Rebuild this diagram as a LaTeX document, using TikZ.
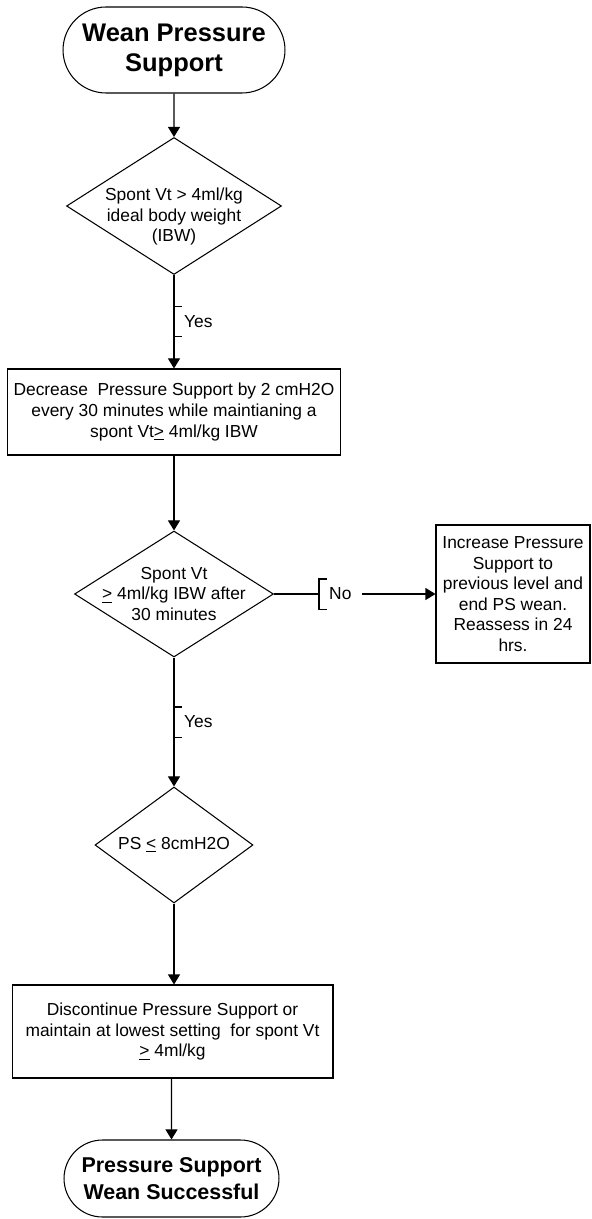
\documentclass[tikz,border=0pt]{standalone}
\usepackage{fontspec}
\setmainfont{Liberation Sans}
\usetikzlibrary{shapes,arrows.meta,positioning}

\begin{document}
\begin{tikzpicture}[x=0.02cm, y=-0.02cm, line width=0.6pt, align=center,
  font=\fontsize{9.9}{11.7}\selectfont,
  term/.style={draw, rounded rectangle, inner sep=0pt},
  decision/.style={draw, diamond, inner sep=0pt},
  block/.style={draw, rectangle, inner sep=0pt},
  brk/.style={inner xsep=5.5pt, inner ysep=0pt, minimum height=0.58cm, anchor=west},
  flow/.style={-{Triangle[length=5.7pt,width=6.8pt]}}]
\useasboundingbox (0,0) rectangle (591,1219);
% main column
\node[term, minimum width=4.44cm, minimum height=1.72cm, font=\fontsize{14.5}{17}\selectfont\bfseries] (start) at (174,50) {Wean Pressure\\Support};
\node[decision, minimum width=4.3cm, minimum height=2.74cm, aspect=1.57, inner sep=-2.3pt] (d1) at (174,206) {\raisebox{-0.22cm}[\height][\depth]{\begin{tabular}{@{}c@{}}Spont Vt > 4ml/kg\\ideal body weight\\(IBW)\end{tabular}}};
\node[block, minimum width=6.66cm, minimum height=1.72cm] (box1) at (174,412) {Decrease\ \ Pressure Support by 2 cmH2O\\every 30 minutes while maintianing a\\spont Vt\underline{>} 4ml/kg IBW};
\node[decision, minimum width=3.98cm, minimum height=2.52cm, aspect=1.58, inner sep=-5.1pt] (d2) at (174,594) {Spont Vt\\\underline{>} 4ml/kg IBW after\\30 minutes};
\node[decision, minimum width=3.16cm, minimum height=2.32cm, aspect=1.36] (d3) at (174,845) {PS \underline{<} 8cmH2O};
\node[block, minimum width=6.42cm, minimum height=1.86cm] (box3) at (172.5,1031.5) {Discontinue Pressure Support or\\maintain at lowest setting\ \ for spont Vt\\\underline{>} 4ml/kg};
\node[term, minimum width=4.3cm, minimum height=1.54cm, font=\fontsize{12.2}{15.3}\selectfont\bfseries] (end) at (171.5,1178.5) {Pressure Support\\Wean Successful};
% side branch
\node[block, minimum width=3.08cm, minimum height=2.76cm] (box2) at (513,594) {Increase Pressure\\Support to\\previous level and\\end PS wean.\\Reassess in 24\\hrs.};
\node[brk] (no1) at (319,594) {No};

\draw[flow] (start) -- (d1);
\draw[flow] (d1) -- (box1) node[brk, pos=.5] (yes1) {Yes};
\draw[flow] (box1) -- (d2);
\draw[flow] (d2) -- (d3) node[brk, pos=.5] (yes2) {Yes};
\draw[flow] (d3) -- (d3 |- box3.north);
\draw[flow] (box3.south -| end) -- (end);
\draw (d2) -- (no1);
\draw[flow] (no1) -- (box2);
\foreach \n in {yes1,yes2,no1}
  \draw ([xshift=0.16cm]\n.north west) -- (\n.north west) -- (\n.south west) -- ++(8,0);
\end{tikzpicture}
\end{document}
